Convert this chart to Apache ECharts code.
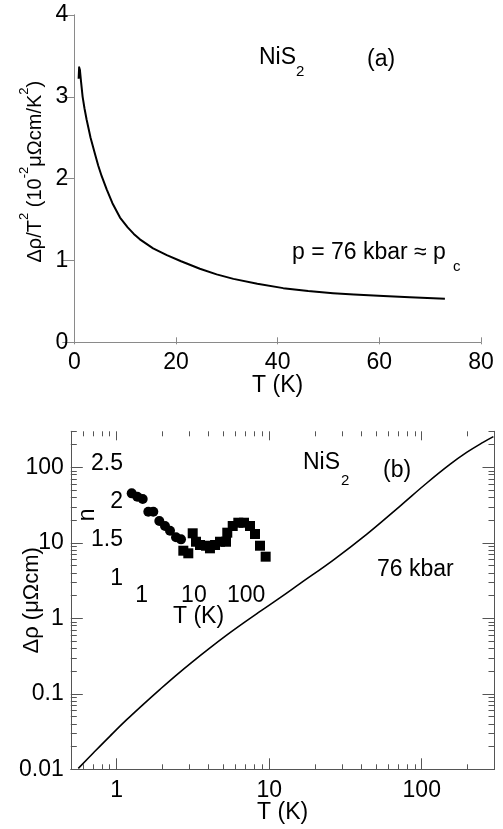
<!DOCTYPE html>
<html>
<head>
<meta charset="utf-8">
<script src="https://cdn.jsdelivr.net/npm/echarts@6/dist/echarts.min.js"></script>
<style>
html,body{margin:0;padding:0;background:#fff;}
#c{width:503px;height:829px;}
</style>
</head>
<body>
<div id="c"></div>
<script>
// Panel (a): Δρ/T² vs T
const T_a   = [0.85, 0.95, 1.1, 1.3, 1.64, 2.0, 2.43, 3.2, 4.07, 4.7, 5.39, 6.37, 7.5, 8.99, 10.5, 11.7, 12.9, 15.5, 18.2, 21, 24.7, 28, 31.3, 36, 41.1, 46, 50.9, 55, 60.8, 66, 72.9];
const rho_a = [3.22, 3.36, 3.33, 3.2, 3.0, 2.86, 2.72, 2.5, 2.3, 2.16, 2.03, 1.87, 1.70, 1.525, 1.405, 1.325, 1.258, 1.148, 1.065, 0.99, 0.899, 0.83, 0.775, 0.715, 0.662, 0.627, 0.600, 0.583, 0.566, 0.551, 0.532];
// Panel (b): Δρ vs T (log-log)
const T_b   = [0.56, 0.702, 0.904, 1.163, 1.494, 1.923, 2.474, 3.18, 4.09, 5.26, 6.76, 8.71, 11.8, 15.9, 26.3, 43.5, 72.1, 108, 153, 197, 254, 295];
const rho_b = [0.0103, 0.01644, 0.02754, 0.0454, 0.0726, 0.1147, 0.1786, 0.2718, 0.4066, 0.599, 0.864, 1.234, 1.88, 2.882, 5.917, 12.96, 30.72, 61.97, 109.2, 157.5, 215.7, 255.1];
// Inset: exponent n vs T
const T_circ = [0.643, 0.823, 1.045, 1.338, 1.668, 2.174, 2.795, 3.484, 4.541, 5.66];
const n_circ = [2.108, 2.064, 2.034, 1.868, 1.868, 1.747, 1.682, 1.621, 1.535, 1.508];
const T_sq = [6.27, 7.81, 9.48, 10.97, 13.09, 17.06, 20.3, 25.4, 31.6, 41.2, 43.6, 55.4, 70.9, 91.2, 118.8, 148, 184.6, 237];
const n_sq = [1.360, 1.326, 1.587, 1.477, 1.434, 1.425, 1.391, 1.434, 1.477, 1.477, 1.595, 1.682, 1.725, 1.725, 1.682, 1.578, 1.425, 1.282];
// Tick values
const majorX = [1, 10, 100];
const minorX = [0.5, 0.6, 0.7, 0.8, 0.9, 2, 3, 4, 5, 6, 7, 8, 9, 20, 30, 40, 50, 60, 70, 80, 90, 200, 300];
const majorY = [0.01, 0.1, 1, 10, 100];
const minorY = [0.02, 0.03, 0.04, 0.05, 0.06, 0.07, 0.08, 0.09, 0.2, 0.3, 0.4, 0.5, 0.6, 0.7, 0.8, 0.9, 2, 3, 4, 5, 6, 7, 8, 9, 20, 30, 40, 50, 60, 70, 80, 90, 200, 300];
const insetXLabels = [1, 10, 100];

const zip = (a, b) => a.map((v, i) => [v, b[i]]);
const FONT = 'Liberation Sans';
const FS = 23;
const lblStyle = {color: '#000', fontFamily: FONT, fontSize: FS};
const grayA = '#8a8a8a';
const grayB = '#555';

const chart = echarts.init(document.getElementById('c'), null, {renderer: 'canvas'});

const logX = (extra) => Object.assign({type: 'log', gridIndex: 1, min: 0.5, max: 300, splitLine: {show: false}, nameMoveOverlap: false}, extra);
const logY = (extra) => Object.assign({type: 'log', gridIndex: 1, min: 0.01, max: 300, splitLine: {show: false}, nameMoveOverlap: false}, extra);

const option = {
  animation: false,
  backgroundColor: '#fff',
  grid: [
    {left: 74.3, width: 406.7, top: 15, height: 327.3, outerBoundsMode: 'none', containLabel: false},
    {left: 70.8, width: 423.7, top: 431.3, height: 338, outerBoundsMode: 'none', containLabel: false},
    {left: 126, width: 145, top: 463.3, height: 115, outerBoundsMode: 'none', containLabel: false}
  ],
  xAxis: [
    {type: 'value', gridIndex: 0, position: 'bottom', min: 0, max: 80, interval: 20, nameMoveOverlap: false,
     axisLine: {lineStyle: {color: grayA, width: 1}}, axisTick: {inside: true, length: 5, lineStyle: {color: grayA}},
     axisLabel: Object.assign({margin: 9}, lblStyle), splitLine: {show: false},
     name: 'T (K)', nameLocation: 'middle', nameGap: 32, nameTextStyle: lblStyle},
    {type: 'value', gridIndex: 0, position: 'top', min: 0, max: 80, interval: 20,
     axisLine: {show: false}, axisTick: {inside: true, length: 2, lineStyle: {color: grayA}},
     axisLabel: {show: false}, splitLine: {show: false}},
    logX({position: 'bottom', axisLine: {lineStyle: {color: grayB}},
     axisTick: {inside: true, length: 11, customValues: majorX, lineStyle: {color: grayB}},
     axisLabel: Object.assign({margin: 10, customValues: majorX}, lblStyle),
     name: 'T (K)', nameLocation: 'middle', nameGap: 32, nameTextStyle: lblStyle}),
    logX({position: 'bottom', axisLine: {show: false},
     axisTick: {inside: true, length: 5, customValues: minorX, lineStyle: {color: grayB}}, axisLabel: {show: false}}),
    logX({position: 'top', axisLine: {show: false},
     axisTick: {inside: true, length: 9, customValues: majorX, lineStyle: {color: grayB}}, axisLabel: {show: false}}),
    logX({position: 'top', axisLine: {show: false},
     axisTick: {inside: true, length: 5, customValues: minorX, lineStyle: {color: grayB}}, axisLabel: {show: false}}),
    {type: 'log', gridIndex: 2, min: 0.5, max: 300, position: 'bottom', nameMoveOverlap: false,
     axisLine: {show: false}, axisTick: {show: false}, splitLine: {show: false},
     axisLabel: Object.assign({margin: 6, customValues: insetXLabels}, lblStyle),
     name: 'T (K)', nameLocation: 'middle', nameGap: 27, nameTextStyle: lblStyle}
  ],
  yAxis: [
    {type: 'value', gridIndex: 0, position: 'left', min: 0, max: 4, interval: 1, nameMoveOverlap: false,
     axisLine: {show: true, lineStyle: {color: grayA}}, axisTick: {show: true, inside: false, length: 6, lineStyle: {color: grayA}},
     axisLabel: Object.assign({margin: 6}, lblStyle), splitLine: {show: false},
     name: '{m|Δρ/T}{s|2}{m| (10}{s|-2}{m|μΩcm/K}{s|2}{m|)}', nameLocation: 'middle', nameGap: 29,
     nameTextStyle: {padding: [0, 0, 0, 14], rich: {
       m: {fontFamily: FONT, fontSize: 20, color: '#000', lineHeight: 27, verticalAlign: 'bottom'},
       s: {fontFamily: FONT, fontSize: 13, color: '#000', verticalAlign: 'top'}
     }}},
    {type: 'value', gridIndex: 0, position: 'right', min: 0, max: 4, interval: 1,
     axisLine: {show: true, lineStyle: {color: grayA}}, axisTick: {show: true, inside: true, length: 12, lineStyle: {color: grayA}},
     axisLabel: {show: false}, splitLine: {show: false}},
    logY({position: 'left', axisLine: {show: true, lineStyle: {color: grayB}},
     axisTick: {show: true, inside: true, length: 12, customValues: majorY, lineStyle: {color: grayB}},
     axisLabel: Object.assign({margin: 7, customValues: majorY}, lblStyle),
     name: 'Δρ (μΩcm)', nameLocation: 'middle', nameGap: 28, nameTextStyle: Object.assign({}, lblStyle, {fontSize: 22})}),
    logY({position: 'left', axisLine: {show: false},
     axisTick: {show: true, inside: true, length: 6, customValues: minorY, lineStyle: {color: grayB}}, axisLabel: {show: false}}),
    logY({position: 'right', axisLine: {show: true, lineStyle: {color: grayB}},
     axisTick: {show: true, inside: true, length: 12, customValues: majorY, lineStyle: {color: grayB}}, axisLabel: {show: false}}),
    logY({position: 'right', axisLine: {show: false},
     axisTick: {show: true, inside: true, length: 6, customValues: minorY, lineStyle: {color: grayB}}, axisLabel: {show: false}}),
    {type: 'value', gridIndex: 2, position: 'left', min: 1, max: 2.5, interval: 0.5, nameMoveOverlap: false,
     axisLine: {show: false}, axisTick: {show: false}, splitLine: {show: false},
     axisLabel: Object.assign({margin: 3}, lblStyle),
     name: 'n', nameLocation: 'middle', nameGap: 27, nameTextStyle: Object.assign({padding: [0, 0, 0, 12]}, lblStyle)}
  ],
  series: [
    {type: 'line', xAxisIndex: 0, yAxisIndex: 0, data: zip(T_a, rho_a), showSymbol: false, symbol: 'none',
     lineStyle: {color: '#000', width: 2, join: 'round'}, smooth: false},
    {type: 'line', xAxisIndex: 2, yAxisIndex: 2, data: zip(T_b, rho_b), showSymbol: false, symbol: 'none',
     lineStyle: {color: '#000', width: 1.6}, smooth: 0.4},
    {type: 'scatter', xAxisIndex: 6, yAxisIndex: 6, data: zip(T_circ, n_circ), symbol: 'circle', symbolSize: 10,
     itemStyle: {color: '#000', opacity: 1}},
    {type: 'scatter', xAxisIndex: 6, yAxisIndex: 6, data: zip(T_sq, n_sq), symbol: 'rect', symbolSize: 10,
     itemStyle: {color: '#000', opacity: 1}}
  ],
  graphic: [
    {type: 'text', x: 259, y: 58, style: {text: 'NiS', font: FS + 'px "' + FONT + '"', fill: '#000', verticalAlign: 'middle'}},
    {type: 'text', x: 296, y: 72, style: {text: '2', font: '15px "' + FONT + '"', fill: '#000', verticalAlign: 'middle'}},
    {type: 'text', x: 367, y: 60, style: {text: '(a)', font: FS + 'px "' + FONT + '"', fill: '#000', verticalAlign: 'middle'}},
    {type: 'text', x: 292, y: 253, style: {text: 'p = 76 kbar ≈ p', font: FS + 'px "' + FONT + '"', fill: '#000', verticalAlign: 'middle'}},
    {type: 'text', x: 453, y: 267, style: {text: 'c', font: '15px "' + FONT + '"', fill: '#000', verticalAlign: 'middle'}},
    {type: 'text', x: 303, y: 463, style: {text: 'NiS', font: FS + 'px "' + FONT + '"', fill: '#000', verticalAlign: 'middle'}},
    {type: 'text', x: 341, y: 481, style: {text: '2', font: '15px "' + FONT + '"', fill: '#000', verticalAlign: 'middle'}},
    {type: 'text', x: 383, y: 471, style: {text: '(b)', font: FS + 'px "' + FONT + '"', fill: '#000', verticalAlign: 'middle'}},
    {type: 'text', x: 377, y: 570, style: {text: '76 kbar', font: FS + 'px "' + FONT + '"', fill: '#000', verticalAlign: 'middle'}}
  ]
};
chart.setOption(option);
</script>
</body>
</html>
